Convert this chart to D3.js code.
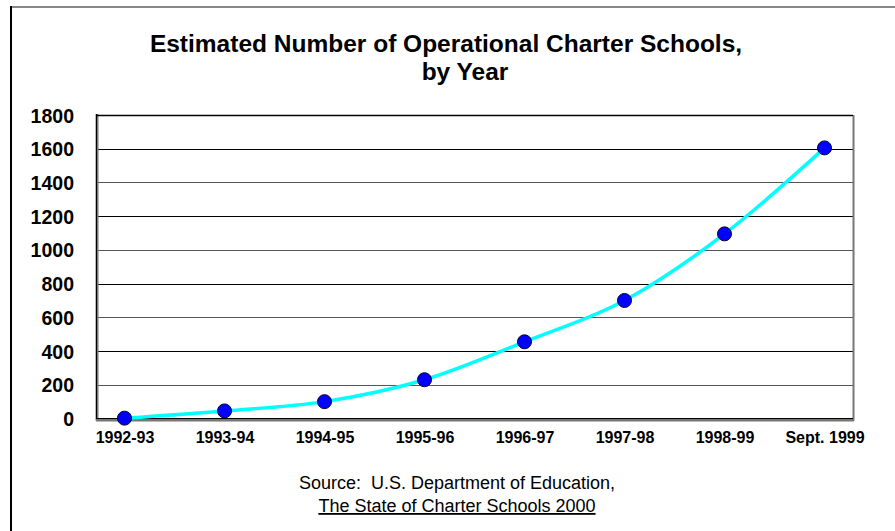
<!DOCTYPE html>
<html><head><meta charset="utf-8">
<script src="https://cdn.jsdelivr.net/npm/d3@7"></script>
<style>body{margin:0;background:#fff}svg{display:block}text{white-space:pre}</style>
</head><body>
<script>
const categories = ["1992-93","1993-94","1994-95","1995-96","1996-97","1997-98","1998-99","Sept. 1999"];
const values = [2, 45, 100, 230, 455, 700, 1095, 1605];
const yTicks = [0,200,400,600,800,1000,1200,1400,1600,1800];
const titleLines = ["Estimated Number of Operational Charter Schools,", "by Year"];
const sourceLines = ["Source:  U.S. Department of Education,", "The State of Charter Schools 2000"];

const W = 895, H = 531;
const svg = d3.select("body").append("svg").attr("width", W).attr("height", H);
const font = "'Liberation Sans', Arial, sans-serif";

// outer frame
svg.append("line").attr("x1",11).attr("x2",W).attr("y1",7).attr("y2",7).attr("stroke","#888").attr("stroke-width",2);
svg.append("line").attr("x1",11).attr("x2",11).attr("y1",6).attr("y2",H).attr("stroke","#000").attr("stroke-width",2);

const L = 96, R = 853, T = 115, B = 418.5;
const x = d3.scalePoint().domain(categories).range([L, R]).padding(0.285);
const y = d3.scaleLinear().domain([0,1800]).range([B, T]);

// gridlines
svg.append("g").selectAll("line").data(yTicks.filter(d=>d>0)).join("line")
  .attr("x1",L).attr("x2",R)
  .attr("y1",d=>Math.round(y(d))+0.5).attr("y2",d=>Math.round(y(d))+0.5)
  .attr("stroke",(d,i)=> i%2 ? "#000" : "#555").attr("stroke-width",1);

// right border
svg.append("line").attr("x1",R+0.5).attr("x2",R+0.5).attr("y1",T).attr("y2",B+2).attr("stroke","#777").attr("stroke-width",2);

// left axis
const yAxis = d3.axisLeft(y).tickValues(yTicks).tickFormat(d3.format("d")).tickSize(0).tickPadding(22);
const gy = svg.append("g").attr("transform",`translate(${L},0)`).call(yAxis);
gy.select(".domain").remove();
gy.selectAll("text").attr("font-family",font).attr("font-weight","bold").attr("font-size",19.5).attr("fill","#000").attr("dy","0.36em");
svg.append("line").attr("x1",L+1).attr("x2",L+1).attr("y1",T-1).attr("y2",B+2).attr("stroke","#777").attr("stroke-width",3);
svg.append("line").attr("x1",L+0.5).attr("x2",L+0.5).attr("y1",T-1).attr("y2",B+1).attr("stroke","#000").attr("stroke-width",1);

// bottom axis
const xAxis = d3.axisBottom(x).tickSize(0).tickPadding(13);
const gx = svg.append("g").attr("transform",`translate(0,${B})`).call(xAxis);
gx.select(".domain").remove();
gx.selectAll("text").attr("font-family",font).attr("font-weight","bold").attr("font-size",16).attr("fill","#000");
svg.append("line").attr("x1",L).attr("x2",R+1).attr("y1",B+1.5).attr("y2",B+1.5).attr("stroke","#777").attr("stroke-width",3);
svg.append("line").attr("x1",L).attr("x2",R).attr("y1",B).attr("y2",B).attr("stroke","#000").attr("stroke-width",1);

// top border
svg.append("line").attr("x1",L).attr("x2",R).attr("y1",T+0.5).attr("y2",T+0.5).attr("stroke","#000").attr("stroke-width",1.5);

// line
const line = d3.line().x((d,i)=>x(categories[i])).y(d=>y(d)).curve(d3.curveCardinal.tension(0));
svg.append("path").datum(values).attr("d",line).attr("fill","none").attr("stroke","#00FFFF").attr("stroke-width",3.5);

// markers
svg.append("g").selectAll("circle").data(values).join("circle")
  .attr("cx",(d,i)=>x(categories[i])).attr("cy",d=>y(d)).attr("r",7)
  .attr("fill","#0000FF").attr("stroke","#000033").attr("stroke-width",1);

// title
svg.append("text").attr("x",446).attr("y",52).attr("text-anchor","middle")
  .attr("font-family",font).attr("font-weight","bold").attr("font-size",24.5).text(titleLines[0]);
svg.append("text").attr("x",465).attr("y",80).attr("text-anchor","middle")
  .attr("font-family",font).attr("font-weight","bold").attr("font-size",24.5).text(titleLines[1]);

// source
svg.append("text").attr("x",457).attr("y",489).attr("text-anchor","middle")
  .attr("font-family",font).attr("font-size",18).text(sourceLines[0]);
svg.append("text").attr("x",457).attr("y",512).attr("text-anchor","middle")
  .attr("font-family",font).attr("font-size",18).attr("text-decoration","underline").text(sourceLines[1]);
</script>
</body></html>
